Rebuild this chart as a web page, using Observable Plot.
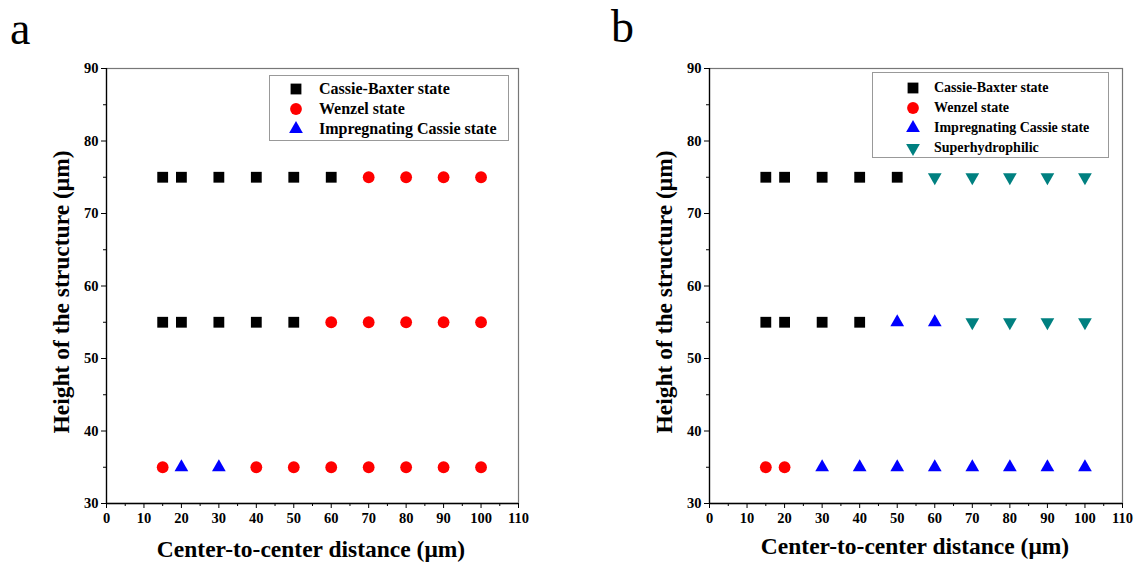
<!DOCTYPE html>
<html><head><meta charset="utf-8">
<script src="https://cdn.jsdelivr.net/npm/d3@7"></script>
<script src="https://cdn.jsdelivr.net/npm/@observablehq/plot@0.6"></script>
<style>
body{margin:0;background:#fff;width:1136px;height:563px;position:relative;overflow:hidden;font-family:"Liberation Serif","Times New Roman",serif;}
.panel{position:absolute;top:0;}
.panel svg text{font-family:"Liberation Serif","Times New Roman",serif !important;}
.letter{position:absolute;font-size:46px;line-height:1;}
.xt{position:absolute;font-weight:bold;font-size:23.5px;white-space:nowrap;transform:translate(-50%,-50%);}
.yt{position:absolute;font-weight:bold;font-size:23.5px;white-space:nowrap;transform:translate(-50%,-50%) rotate(-90deg);}
.legend{position:absolute;border:1px solid #999;background:#fff;box-sizing:border-box;}
.row{position:absolute;display:flex;align-items:center;font-weight:bold;white-space:nowrap;}
</style></head><body>
<script>
// ---- data ----
const xTicks = [0,10,20,30,40,50,60,70,80,90,100,110];
const yTicks = [30,40,50,60,70,80,90];
const xMinor = [5,15,25,35,45,55,65,75,85,95,105];
const yMinor = [35,45,55,65,75,85];

const seriesNames = ["Cassie-Baxter state","Wenzel state","Impregnating Cassie state","Superhydrophilic"];
const seriesColors = ["#000000","#ff0000","#0000ff","#008080"];

// panel a
const aCassieX = [15,20,30,40,50,60, 15,20,30,40,50];
const aCassieY = [75,75,75,75,75,75, 55,55,55,55,55];
const aWenzelX = [70,80,90,100, 60,70,80,90,100, 15,40,50,60,70,80,90,100];
const aWenzelY = [75,75,75,75, 55,55,55,55,55, 35,35,35,35,35,35,35,35];
const aImpregX = [20,30];
const aImpregY = [35,35];

// panel b
const bCassieX = [15,20,30,40,50, 15,20,30,40];
const bCassieY = [75,75,75,75,75, 55,55,55,55];
const bWenzelX = [15,20];
const bWenzelY = [35,35];
const bImpregX = [50,60, 30,40,50,60,70,80,90,100];
const bImpregY = [55,55, 35,35,35,35,35,35,35,35];
const bSuperX = [60,70,80,90,100, 70,80,90,100];
const bSuperY = [75,75,75,75,75, 55,55,55,55];

const pts = (xs, ys) => xs.map((x,i)=>({x, y: ys[i]}));

const symSpec = [
  {symbol:"square", r:6.1, rotate:0},
  {symbol:"circle", r:5.9, rotate:0},
  {symbol:"triangle", r:5.1, rotate:0},
  {symbol:"triangle", r:5.1, rotate:180}
];

function panel(series, ml, mr) {
  const fontOpts = {fontWeight:"bold", fontSize:14.5, fontFamily:"Liberation Serif"};
  const marks = [
    Plot.frame({stroke:"#777", strokeWidth:1.2}),
    Plot.axisX({ticks:xTicks, tickSize:5, tickPadding:4, tickFormat:d=>String(d), label:null, ...fontOpts}),
    Plot.axisX({ticks:xMinor, tickSize:3, tickFormat:()=>"", label:null}),
    Plot.axisY({ticks:yTicks, tickSize:5, tickPadding:3, tickFormat:d=>String(d), label:null, ...fontOpts}),
    Plot.axisY({ticks:yMinor, tickSize:3, tickFormat:()=>"", label:null}),
    Plot.ruleY([30], {stroke:"#000", strokeWidth:1.3}),
    Plot.ruleX([0], {stroke:"#000", strokeWidth:1.3})
  ];
  series.forEach(s => {
    const sp = symSpec[s.k];
    marks.push(Plot.dot(s.data, {x:"x", y:"y", symbol:sp.symbol, r:sp.r, rotate:sp.rotate, fill:seriesColors[s.k], stroke:"none"}));
  });
  return Plot.plot({
    width:568, height:563,
    marginLeft:ml, marginRight:mr, marginTop:68, marginBottom:60,
    x:{domain:[0,110]}, y:{domain:[30,90]},
    style:{background:"transparent", color:"#000", fontFamily:"'Liberation Serif', 'Times New Roman', serif"},
    marks
  });
}

function addPanel(left, chart) {
  const d = document.createElement("div");
  d.className = "panel"; d.style.left = left+"px";
  d.appendChild(chart);
  document.body.appendChild(d);
}

addPanel(0, panel([
  {k:0, data:pts(aCassieX,aCassieY)},
  {k:1, data:pts(aWenzelX,aWenzelY)},
  {k:2, data:pts(aImpregX,aImpregY)}
], 106, 50));

addPanel(568, panel([
  {k:0, data:pts(bCassieX,bCassieY)},
  {k:1, data:pts(bWenzelX,bWenzelY)},
  {k:2, data:pts(bImpregX,bImpregY)},
  {k:3, data:pts(bSuperX,bSuperY)}
], 141, 14));

function el(cls, txt, css) {
  const e = document.createElement("div");
  e.className = cls; e.textContent = txt; Object.assign(e.style, css);
  document.body.appendChild(e); return e;
}
el("letter","a",{left:"10px",top:"6px"});
el("letter","b",{left:"611px",top:"4px"});
el("xt","Center-to-center distance (μm)",{left:"311px",top:"549px"});
el("xt","Center-to-center distance (μm)",{left:"915px",top:"546px"});
el("yt","Height of the structure (μm)",{left:"61px",top:"292px"});
el("yt","Height of the structure (μm)",{left:"664px",top:"292px"});

function symbolSvg(k, size) {
  const sp = symSpec[k];
  const sym = {square:d3.symbolSquare, circle:d3.symbolCircle, triangle:d3.symbolTriangle}[sp.symbol];
  const p = d3.symbol(sym, sp.r*sp.r*Math.PI)();
  return `<svg width="${size}" height="${size}" viewBox="${-size/2} ${-size/2} ${size} ${size}"><path d="${p}" fill="${seriesColors[k]}" transform="rotate(${sp.rotate})"/></svg>`;
}

function legend(left, top, w, h, ks, markerX, textX, rowY, fs) {
  const box = el("legend","",{left:left+"px",top:top+"px",width:w+"px",height:h+"px"});
  ks.forEach((k,i) => {
    const r = document.createElement("div");
    r.className = "row";
    r.style.left = (markerX-left-8)+"px";
    r.style.top = (rowY[i]-top-9)+"px";
    r.style.fontSize = fs+"px";
    r.style.height = "18px";
    r.innerHTML = symbolSvg(k,16) + `<span style="margin-left:${textX-markerX-8}px">${seriesNames[k]}</span>`;
    box.appendChild(r);
  });
}
legend(269, 75, 240, 66, [0,1,2], 295, 318, [88,108,128], 16);
legend(872, 72, 237, 86, [0,1,2,3], 912, 933, [87,107,127,147], 14);
</script>
</body></html>
